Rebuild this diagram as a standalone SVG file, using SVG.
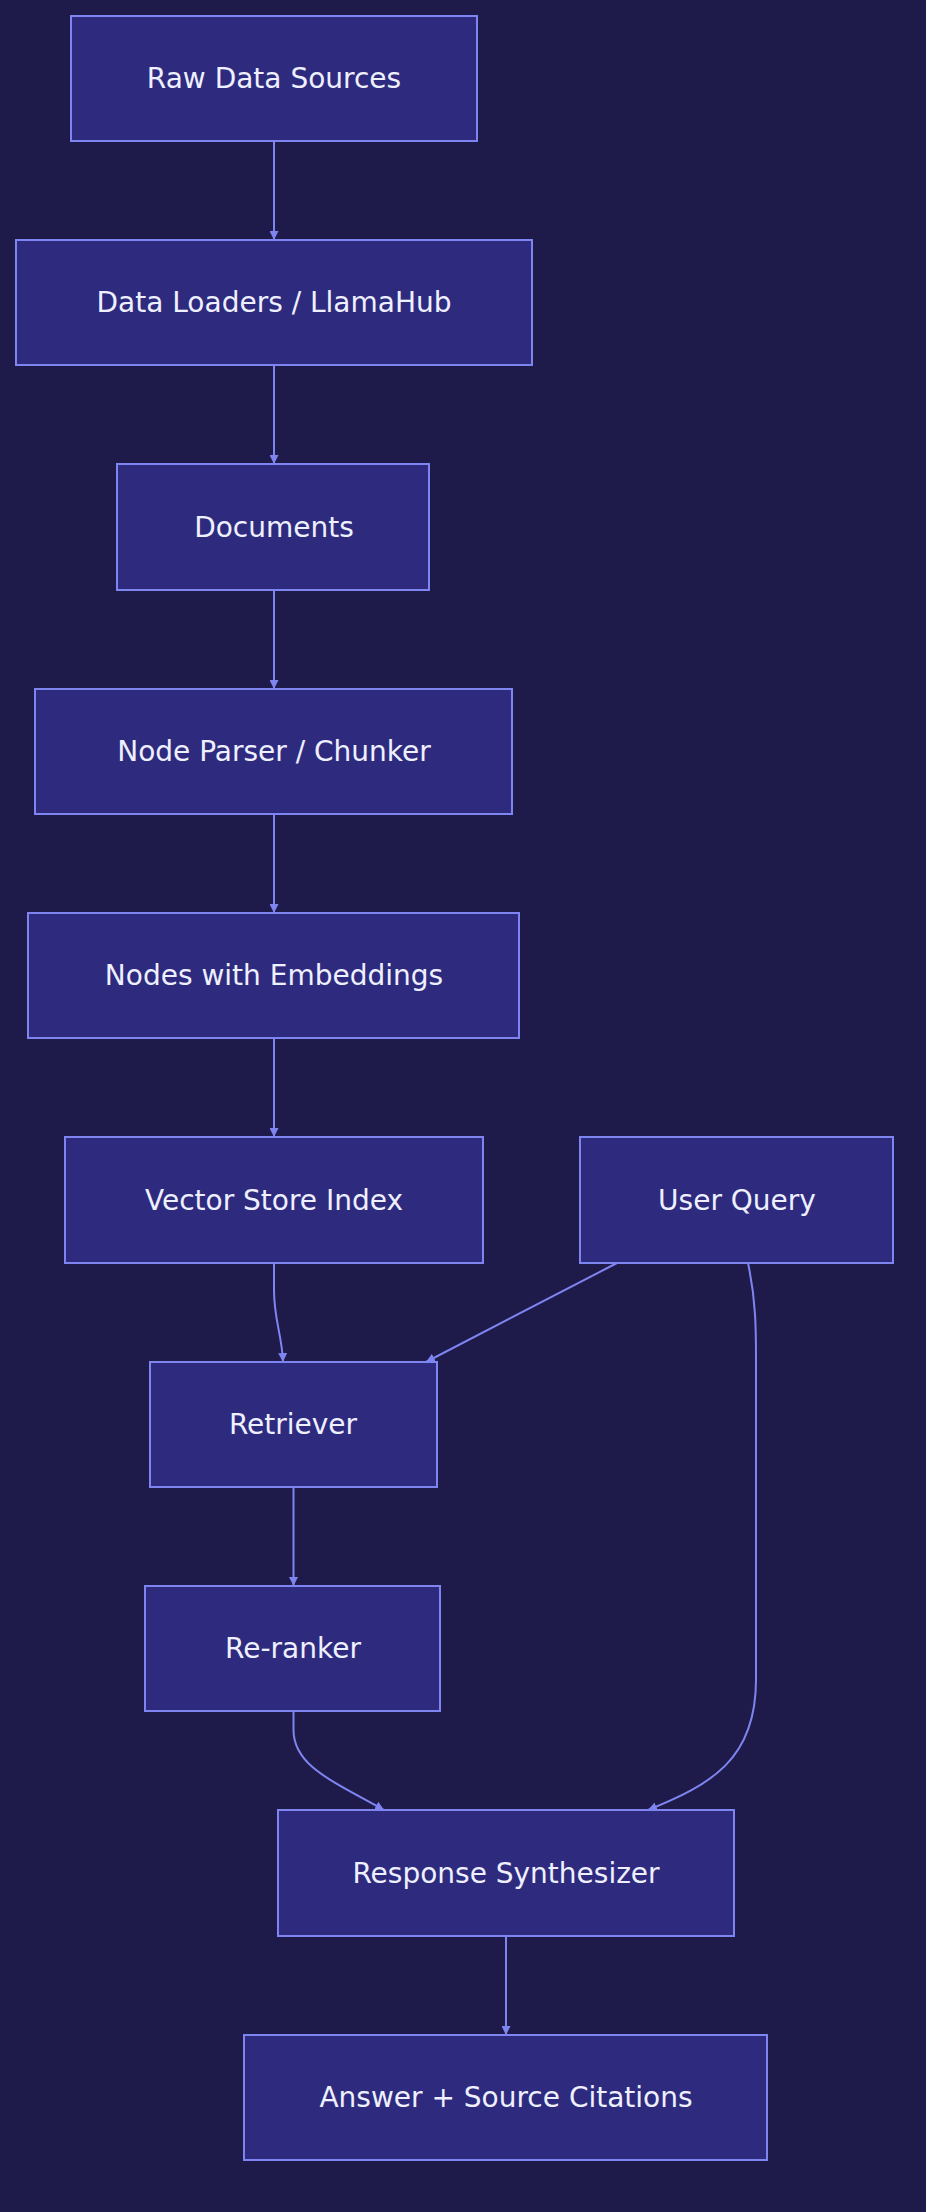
<svg xmlns="http://www.w3.org/2000/svg" width="926" height="2212" viewBox="0 0 926 2212">
<style>
.n rect{fill:#2e2b7e;stroke:#7f85f0;stroke-width:2}
.n text{fill:#eef0ff;font-family:"DejaVu Sans",sans-serif;font-size:28px;text-anchor:middle;dominant-baseline:central}
.e path{fill:none;stroke:#7f85f0;stroke-width:2}
</style>
<defs><marker id="a" viewBox="0 0 10 10" refX="10" refY="5" markerWidth="9" markerHeight="9" markerUnits="userSpaceOnUse" orient="auto"><path d="M0,0L10,5L0,10z" fill="#7f85f0"/></marker></defs>
<rect width="926" height="2212" fill="#1e1b4b"/>
<g class="e" marker-end="url(#a)">
<path d="M274,141V240" marker-end="url(#a)"/>
<path d="M274,365V464" marker-end="url(#a)"/>
<path d="M274,590V689" marker-end="url(#a)"/>
<path d="M274,814V913" marker-end="url(#a)"/>
<path d="M274,1038V1137" marker-end="url(#a)"/>
<path d="M274,1263V1290C274,1320 282,1335 283,1362" marker-end="url(#a)"/>
<path d="M617,1263L426,1362" marker-end="url(#a)"/>
<path d="M748,1263C756,1300 756,1330 756,1360V1680C756,1760 710,1785 648,1810" marker-end="url(#a)"/>
<path d="M293.5,1487V1586" marker-end="url(#a)"/>
<path d="M293.5,1711V1730C293.5,1765 330,1780 384,1810" marker-end="url(#a)"/>
<path d="M506,1936V2035" marker-end="url(#a)"/>
</g>
<g id="n1" class="n"><rect x="71" y="16" width="406" height="125"/><text x="274" y="78">Raw Data Sources</text></g>
<g id="n2" class="n"><rect x="16" y="240" width="516" height="125"/><text x="274" y="302">Data Loaders / LlamaHub</text></g>
<g id="n3" class="n"><rect x="117" y="464" width="312" height="126"/><text x="274" y="527">Documents</text></g>
<g id="n4" class="n"><rect x="35" y="689" width="477" height="125"/><text x="274" y="751">Node Parser / Chunker</text></g>
<g id="n5" class="n"><rect x="28" y="913" width="491" height="125"/><text x="274" y="975">Nodes with Embeddings</text></g>
<g id="n6" class="n"><rect x="65" y="1137" width="418" height="126"/><text x="274" y="1200">Vector Store Index</text></g>
<g id="n7" class="n"><rect x="580" y="1137" width="313" height="126"/><text x="737" y="1200">User Query</text></g>
<g id="n8" class="n"><rect x="150" y="1362" width="287" height="125"/><text x="293" y="1424">Retriever</text></g>
<g id="n9" class="n"><rect x="145" y="1586" width="295" height="125"/><text x="293" y="1648">Re-ranker</text></g>
<g id="n10" class="n"><rect x="278" y="1810" width="456" height="126"/><text x="506" y="1873">Response Synthesizer</text></g>
<g id="n11" class="n"><rect x="244" y="2035" width="523" height="125"/><text x="506" y="2097">Answer + Source Citations</text></g>
</svg>
